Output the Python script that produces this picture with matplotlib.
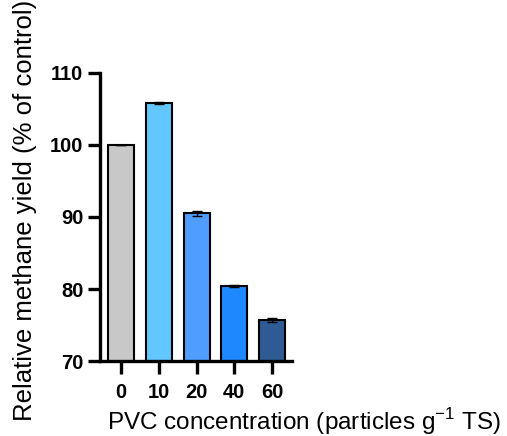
import matplotlib
matplotlib.use("Agg")
import matplotlib.pyplot as plt

categories = ["0", "10", "20", "40", "60"]
values = [100.0, 105.8, 90.5, 80.4, 75.7]
errors = [0.0, 0.15, 0.3, 0.1, 0.3]
colors = ["#C8C8C8", "#62C6FF", "#4F9EFF", "#1E88FF", "#2E5B93"]
yticks = [70, 80, 90, 100, 110]

plt.rcParams['font.family'] = ['Liberation Sans', 'DejaVu Sans']

fig = plt.figure(figsize=(5.07, 4.36), dpi=100)
ax = fig.add_axes([100/507, 1-361/436, 192/507, 288/436])

x = list(range(len(categories)))
ax.bar(x, values, width=0.69, color=colors, edgecolor="black", linewidth=1.5,
       yerr=errors, capsize=3.5, error_kw=dict(ecolor="black", elinewidth=1.0, capthick=1.0),
       zorder=2)
ax.set_xlim(-0.56, 4.53)
ax.set_ylim(70, 110)
ax.set_yticks(yticks)
ax.set_xticks(x)
ax.set_xticklabels(categories)
for s in ["top", "right"]:
    ax.spines[s].set_visible(False)
for s in ["left", "bottom"]:
    ax.spines[s].set_linewidth(2.4)
ax.tick_params(axis="both", length=9, width=2.4, labelsize=14.5, direction="out")
ax.tick_params(axis="x", pad=7)
ax.tick_params(axis="y", pad=3)
for lab in ax.get_xticklabels() + ax.get_yticklabels():
    lab.set_fontweight("bold")

fig.text(304/507, 1-430/436, "PVC concentration (particles g$^{\\mathregular{-1}}$ TS)",
         ha="center", va="baseline", fontsize=17.5)
fig.text(25/507, 1-210/436, "Relative methane yield (% of control)",
         ha="center", va="center", rotation=90, fontsize=18.5)

fig.savefig("out.png", dpi=100)
